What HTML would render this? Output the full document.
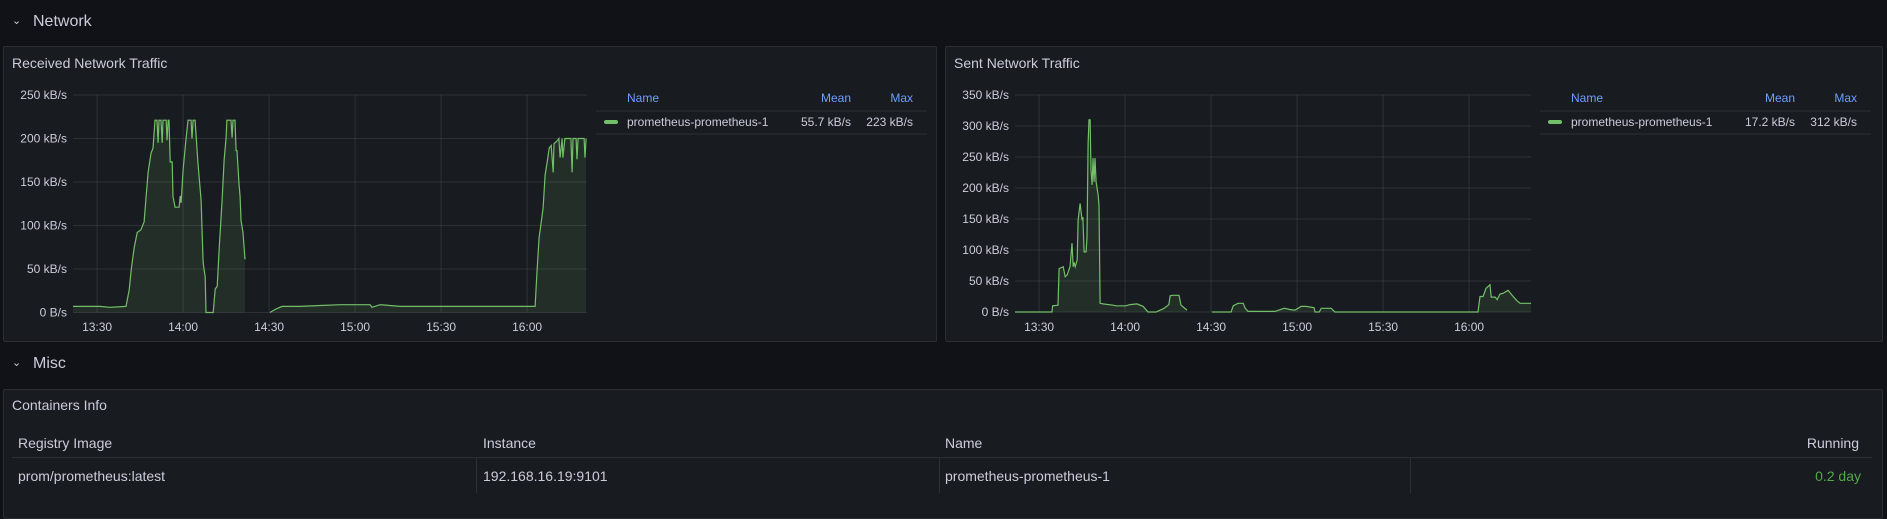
<!DOCTYPE html>
<html><head><meta charset="utf-8"><style>
body{margin:0;width:1887px;height:510px;background:#111217;overflow:hidden;font-family:"Liberation Sans",sans-serif;color:#ccccdc;position:relative}
.abs{position:absolute}
.panel{position:absolute;background:#181b1f;border:1px solid #2a2d33;border-radius:2px;box-sizing:border-box}
.row-title{position:absolute;font-size:16px;font-weight:500;color:#ccccdc;line-height:20px}
.chev{position:absolute;font-size:11px;color:#ccccdc}
.ptitle{position:absolute;font-size:14px;font-weight:500;color:#ccccdc;line-height:18px}
.th{position:absolute;font-size:14px;font-weight:500;color:#ccccdc;line-height:18px}
.td{position:absolute;font-size:14px;color:#ccccdc;line-height:18px}
</style></head><body>
<div class="chev" style="left:12px;top:14px">⌄</div>
<div class="row-title" style="left:33px;top:12px">Network</div>
<div class="panel" style="left:3px;top:46px;width:934px;height:296px"></div>
<div class="ptitle" style="left:12px;top:54px">Received Network Traffic</div>
<div class="panel" style="left:945px;top:46px;width:938px;height:296px"></div>
<div class="ptitle" style="left:954px;top:54px">Sent Network Traffic</div>
<div class="chev" style="left:12px;top:356px">⌄</div>
<div class="row-title" style="left:33px;top:354px">Misc</div>
<div class="panel" style="left:3px;top:389px;width:1880px;height:130px"></div>
<div class="ptitle" style="left:12px;top:396px">Containers Info</div>
<div class="th" style="left:18px;top:434px">Registry Image</div>
<div class="th" style="left:483px;top:434px">Instance</div>
<div class="th" style="left:945px;top:434px">Name</div>
<div class="th" style="right:28px;top:434px">Running</div>
<div class="abs" style="left:12px;top:457px;width:1860px;height:1px;background:#2c2f35"></div>
<div class="abs" style="left:476px;top:458px;width:1px;height:35px;background:#2c2f35"></div>
<div class="abs" style="left:939px;top:458px;width:1px;height:35px;background:#2c2f35"></div>
<div class="abs" style="left:1410px;top:458px;width:1px;height:35px;background:#2c2f35"></div>
<div class="td" style="left:18px;top:467px">prom/prometheus:latest</div>
<div class="td" style="left:483px;top:467px">192.168.16.19:9101</div>
<div class="td" style="left:945px;top:467px">prometheus-prometheus-1</div>
<div class="td" style="right:26px;top:467px;color:#56a64b">0.2 day</div>

<svg id="chart" class="abs" style="left:0;top:0" width="1887" height="510"></svg>
<script>
const xTickLabels=["13:30","14:00","14:30","15:00","15:30","16:00"];
const xTickMinutes=[0,30,60,90,120,150];
const recvTicks=[0,50,100,150,200,250];
const sentTicks=[0,50,100,150,200,250,300,350];
const recvTimes=[-8.4,1.0,4.5,10.1,11.2,11.9,12.9,14.0,15.3,16.4,17.1,17.8,18.8,19.5,20.2,20.9,21.3,21.6,22.3,22.7,23.0,24.1,24.4,24.8,25.1,25.5,26.2,26.5,27.2,28.6,29.0,29.3,30.0,31.0,31.7,32.8,33.1,33.5,34.2,35.2,36.3,37.0,37.3,37.7,38.0,40.5,41.2,41.9,42.6,43.6,44.3,45.0,45.3,46.7,47.1,47.4,48.1,48.5,48.8,49.5,49.9,50.2,50.9,51.6,55,60.3,62.4,64.5,70.8,77.8,84.8,95.2,95.9,98.7,105.7,123.1,140.6,152.8,153.5,154.2,154.9,155.6,156.3,157.0,157.7,158.4,159.1,159.4,160.4,161.1,161.5,162.2,162.5,163.2,165.3,165.7,166.0,167.1,167.4,167.8,169.9,170.2,170.6];
const recvValues=[7,7,6,7,26,49,74,92,95,104,133,161,183,189,221,221,195,221,221,195,221,221,198,221,221,173,173,133,121,121,134,126,164,198,221,221,200,221,221,171,129,58,50,41,0,0,27,30,74,129,175,201,221,221,201,221,221,186,186,148,133,106,92,61,null,0,4,7,7,8,9,9,6,9,7,7,7,7,49,86,103,120,158,173,189,192,161,194,197,200,178,200,178,200,200,161,200,200,176,200,200,178,200];
const sentTimes=[-8.4,4.5,4.7,6.6,7.0,8.4,9.1,9.8,10.8,11.5,11.9,12.2,12.6,13.3,13.6,14.3,15.0,15.3,15.7,16.4,16.7,17.1,17.4,17.8,18.1,18.5,18.8,19.2,19.5,19.9,20.6,20.9,21.3,22.3,25.8,26.9,30.3,31.7,34.2,36.3,38.0,40.8,43.6,45.3,45.7,46.4,48.8,49.5,51.6,55,60.3,67.0,67.7,69.4,71.2,71.9,72.9,82.3,85.5,87.5,89.3,91.4,93.1,95.9,96.3,97.7,98.4,101.9,103.2,153.1,153.8,154.9,155.9,157.3,157.7,159.1,159.8,160.8,161.8,163.6,165.0,166.7,167.8,171.6];
const sentValues=[0,0,10,11,70,73,57,60,73,111,73,80,73,84,148,175,148,153,97,97,121,272,310,310,229,205,248,210,248,210,189,172,14,13,11,10,10,12,13,9,0,0,6,12,26,27,27,11,3,null,0,0,10,14,14,6,1,1,6,4,3,9,9,7,0,0,6,6,0,0,25,25,38,44,24,24,20,29,30,35,27,18,14,14];

const NS="http://www.w3.org/2000/svg";
const svg=document.getElementById('chart');
function mk(tag,attrs){const e=document.createElementNS(NS,tag);for(const k in attrs)e.setAttribute(k,attrs[k]);svg.appendChild(e);return e;}

function drawChart(cfg,times,values,ticks,prefix){
  const xScale=t=>cfg.x0+(t-cfg.t0)/(cfg.t1-cfg.t0)*(cfg.x1-cfg.x0);
  const yScale=v=>cfg.yBase-v*cfg.pxPer;
  ticks.forEach(v=>{
    const gl=mk('line',{x1:cfg.x0,x2:cfg.x1,y1:yScale(v),y2:yScale(v),stroke:'rgba(204,204,220,0.12)','stroke-width':1});
    
    
    const tl=mk('text',{x:cfg.x0-6,y:yScale(v)+4,'text-anchor':'end','font-size':12,fill:'#ccccdc','font-family':'Liberation Sans, sans-serif'});
    tl.textContent=(v===0?'0 B/s':v+' kB/s');
    
    
  });
  xTickMinutes.forEach((m,i)=>{
    const x=xScale(m);
    const gl=mk('line',{x1:x,x2:x,y1:yScale(ticks[ticks.length-1]),y2:cfg.yBase,stroke:'rgba(204,204,220,0.12)','stroke-width':1});
    
    
    const tl=mk('text',{x:x,y:331,'text-anchor':'middle','font-size':12,fill:'#ccccdc','font-family':'Liberation Sans, sans-serif'});
    tl.textContent=xTickLabels[i];
    
    
  });
  // segments split by null
  let segs=[],cur=[];
  times.forEach((t,i)=>{if(values[i]===null){if(cur.length)segs.push(cur);cur=[];}else cur.push([xScale(t),yScale(values[i])]);});
  if(cur.length)segs.push(cur);
  segs.forEach(s=>{
    const line=s.map(p=>p[0].toFixed(1)+','+p[1].toFixed(1)).join(' L');
    const area=mk('path',{d:'M'+s[0][0].toFixed(1)+','+cfg.yBase+' L'+line+' L'+s[s.length-1][0].toFixed(1)+','+cfg.yBase+' Z',fill:'rgba(115,191,105,0.12)',stroke:'none'});
    
    
    const ln=mk('path',{d:'M'+line,fill:'none',stroke:'#73bf69','stroke-width':1.2});
    
    
  });
  // legend
  const lx=cfg.legendX;
  const h1=mk('text',{x:lx+31,y:102,'font-size':12,fill:'#6e9fff','font-family':'Liberation Sans, sans-serif'});h1.textContent='Name';
  
  const h2=mk('text',{x:lx+255,y:102,'text-anchor':'end','font-size':12,fill:'#6e9fff','font-family':'Liberation Sans, sans-serif'});h2.textContent='Mean';
  
  const h3=mk('text',{x:lx+317,y:102,'text-anchor':'end','font-size':12,fill:'#6e9fff','font-family':'Liberation Sans, sans-serif'});h3.textContent='Max';
  
  const d1=mk('line',{x1:lx,x2:lx+331,y1:111,y2:111,stroke:'#2c2f35'});
  
  const sw=mk('rect',{x:lx+8,y:120,width:14,height:4,rx:2,fill:'#73bf69'});
  
  const n=mk('text',{x:lx+31,y:126,'font-size':12,fill:'#ccccdc','font-family':'Liberation Sans, sans-serif'});n.textContent='prometheus-prometheus-1';
  
  const mv=mk('text',{x:lx+255,y:126,'text-anchor':'end','font-size':12,fill:'#ccccdc','font-family':'Liberation Sans, sans-serif'});mv.textContent=cfg.mean;
  
  const xv=mk('text',{x:lx+317,y:126,'text-anchor':'end','font-size':12,fill:'#ccccdc','font-family':'Liberation Sans, sans-serif'});xv.textContent=cfg.max;
  
  const d2=mk('line',{x1:lx,x2:lx+331,y1:134,y2:134,stroke:'#2c2f35'});
  
}
drawChart({x0:73,x1:587,t0:-8.4,t1:170.9,yBase:312.5,pxPer:0.87,legendX:596,mean:'55.7 kB/s',max:'223 kB/s'},recvTimes,recvValues,recvTicks,'received');
drawChart({x0:1015,x1:1531,t0:-8.4,t1:171.6,yBase:312,pxPer:0.62,legendX:1540,mean:'17.2 kB/s',max:'312 kB/s'},sentTimes,sentValues,sentTicks,'sent');
</script>
</body></html>
